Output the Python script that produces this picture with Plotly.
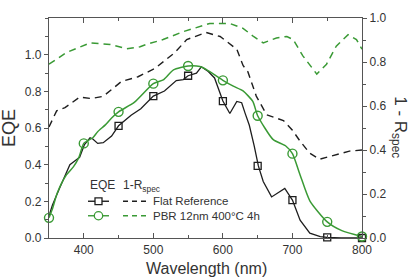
import plotly.graph_objects as go

# ---------------- data ----------------
# EQE, Flat Reference (black solid)
flat_eqe_wl = [350, 355, 365, 380, 387, 394, 401, 409, 413, 420, 428, 440, 450, 460, 468, 482,
               500, 516, 529, 533, 543, 550, 562, 569, 579, 588, 600, 610, 620, 627, 632, 638,
               645, 651, 658, 670, 689, 700, 711, 725, 740, 750, 770, 800]
flat_eqe = [0.12, 0.18, 0.27, 0.40, 0.42, 0.44, 0.51, 0.547, 0.54, 0.516, 0.52, 0.556, 0.612, 0.645, 0.67, 0.705,
            0.774, 0.802, 0.846, 0.859, 0.864, 0.885, 0.899, 0.934, 0.908, 0.873, 0.747, 0.679, 0.745, 0.738, 0.68, 0.615,
            0.503, 0.393, 0.308, 0.224, 0.27, 0.207, 0.097, 0.026, 0.008, 0.003, 0.0, 0.0]
flat_mark_wl = [450, 500, 550, 600, 650, 700, 750, 800]
flat_mark = [0.612, 0.774, 0.885, 0.747, 0.393, 0.207, 0.003, 0.0]

# EQE, PBR 12nm 400C 4h (green solid)
pbr_eqe_wl = [350, 355, 362, 375, 385, 393, 400, 413, 420, 431, 440, 450, 473, 500, 515, 529,
              550, 567, 577, 600, 615, 629, 643, 650, 672, 690, 700, 711, 725, 750, 771, 800]
pbr_eqe = [0.11, 0.16, 0.247, 0.344, 0.388, 0.44, 0.516, 0.547, 0.58, 0.617, 0.655, 0.688, 0.741, 0.842, 0.864, 0.917,
           0.938, 0.935, 0.917, 0.86, 0.828, 0.802, 0.745, 0.667, 0.538, 0.503, 0.46, 0.344, 0.203, 0.088, 0.04, 0.008]
pbr_mark_wl = [350, 400, 450, 500, 550, 600, 650, 700, 750, 800]
pbr_mark = [0.11, 0.516, 0.688, 0.842, 0.938, 0.86, 0.667, 0.46, 0.088, 0.008]

# 1 - R_spec, Flat Reference (black dashed)
flat_r_wl = [350, 361, 373, 385, 394, 411, 428, 454, 478, 502, 514, 531, 548, 576, 596, 615, 620,
             629, 636, 648, 663, 687, 700, 711, 725, 739, 758, 782, 800]
flat_r = [0.505, 0.578, 0.593, 0.622, 0.64, 0.634, 0.644, 0.711, 0.733, 0.77, 0.80, 0.843, 0.902, 0.934, 0.916, 0.872, 0.858,
          0.784, 0.755, 0.645, 0.56, 0.534, 0.49, 0.44, 0.385, 0.358, 0.373, 0.395, 0.40]

# 1 - R_spec, PBR (green dashed)
pbr_r_wl = [350, 375, 409, 438, 462, 481, 490, 514, 543, 581, 610, 629, 644, 658, 677, 692, 701,
            715, 735, 749, 763, 780, 792, 800]
pbr_r = [0.79, 0.843, 0.887, 0.88, 0.86, 0.869, 0.88, 0.902, 0.938, 0.975, 0.975, 0.953, 0.916, 0.887, 0.909, 0.916, 0.902,
         0.828, 0.745, 0.79, 0.872, 0.924, 0.902, 0.858]

x_ticks = [400, 500, 600, 700, 800]
left_ticks = [0.0, 0.2, 0.4, 0.6, 0.8, 1.0]
right_ticks = [0.0, 0.2, 0.4, 0.6, 0.8, 1.0]

legend_labels = ["Flat Reference", "PBR 12nm 400°C 4h"]

# ---------------- styles ----------------
BLACK = "#1e1e1e"
GREEN = "#3a9a35"
AXIS = "#555555"
TXT = "#333333"
FONT = "Liberation Sans, Arial, sans-serif"
DASH = "7px,5px"

fig = go.Figure()

fig.add_trace(go.Scatter(x=flat_r_wl, y=flat_r, mode="lines", yaxis="y2",
                         line=dict(color=BLACK, width=1.4, dash=DASH), showlegend=False))
fig.add_trace(go.Scatter(x=pbr_r_wl, y=pbr_r, mode="lines", yaxis="y2",
                         line=dict(color=GREEN, width=1.5, dash=DASH), showlegend=False))
fig.add_trace(go.Scatter(x=flat_eqe_wl, y=flat_eqe, mode="lines",
                         line=dict(color=BLACK, width=1.3), showlegend=False))
fig.add_trace(go.Scatter(x=pbr_eqe_wl, y=pbr_eqe, mode="lines", line_shape="spline",
                         line=dict(color=GREEN, width=1.5, smoothing=0.6), showlegend=False))
fig.add_trace(go.Scatter(x=flat_mark_wl, y=flat_mark, mode="markers", cliponaxis=False,
                         marker=dict(symbol="square-open", size=7, color=BLACK, line=dict(width=1.3)),
                         showlegend=False))
fig.add_trace(go.Scatter(x=pbr_mark_wl, y=pbr_mark, mode="markers", cliponaxis=False,
                         marker=dict(symbol="circle-open", size=9, color=GREEN, line=dict(width=1.4)),
                         showlegend=False))

# plot area in pixels
L, R, T, B = 49, 362, 11, 238.5
W, H = R - L, B - T


def px(x):
    return (x - L) / W


def py(y):
    return (B - y) / H


shapes = []
annotations = []

# legend header
annotations.append(dict(x=px(88), y=py(183.5), xref="paper", yref="paper", text="EQE",
                        showarrow=False, xanchor="left", yanchor="middle",
                        font=dict(size=12, color=TXT, family=FONT)))
annotations.append(dict(x=px(120.5), y=py(184.5), xref="paper", yref="paper", text="1-R<sub>spec</sub>",
                        showarrow=False, xanchor="left", yanchor="middle",
                        font=dict(size=12, color=TXT, family=FONT)))

rows = [(200.5, BLACK, "square"), (215.5, GREEN, "circle")]
for (yy, col, sym), lab in zip(rows, legend_labels):
    shapes.append(dict(type="line", xref="paper", yref="paper", x0=px(88), x1=px(109), y0=py(yy), y1=py(yy),
                       line=dict(color=col, width=1.4)))
    s = 3.5 if sym == "square" else 4.2
    shapes.append(dict(type="rect" if sym == "square" else "circle", xref="paper", yref="paper",
                       x0=px(98.5 - s), x1=px(98.5 + s), y0=py(yy + s), y1=py(yy - s),
                       line=dict(color=col, width=1.3), fillcolor="white"))
    shapes.append(dict(type="line", xref="paper", yref="paper", x0=px(123), x1=px(146), y0=py(yy), y1=py(yy),
                       line=dict(color=col, width=1.4, dash="5px,4px")))
    annotations.append(dict(x=px(151), y=py(yy), xref="paper", yref="paper", text=lab,
                            showarrow=False, xanchor="left", yanchor="middle",
                            font=dict(size=11.5, color=TXT, family=FONT)))

# axis titles
annotations.append(dict(x=px(9), y=0.5, xref="paper", yref="paper", text="EQE", textangle=-90,
                        showarrow=False, xanchor="center", yanchor="middle",
                        font=dict(size=18, color=TXT, family=FONT)))
annotations.append(dict(x=px(399), y=py(124), xref="paper", yref="paper", text="1 - R<sub>spec</sub>",
                        textangle=90, showarrow=False, xanchor="center", yanchor="middle",
                        font=dict(size=17, color=TXT, family=FONT)))
annotations.append(dict(x=px(206.5), y=py(270.5), xref="paper", yref="paper", text="Wavelength (nm)",
                        showarrow=False, xanchor="center", yanchor="middle",
                        font=dict(size=16, color=TXT, family=FONT)))

axis_common = dict(showline=True, linecolor=AXIS, linewidth=1.3, showgrid=False, zeroline=False,
                   tickcolor=AXIS, tickwidth=1.2, tickfont=dict(size=12, color=TXT, family=FONT))

fig.update_layout(
    width=418, height=278,
    margin=dict(l=L, r=418 - R, t=T, b=278 - B, pad=0),
    paper_bgcolor="white", plot_bgcolor="white",
    showlegend=False,
    xaxis=dict(range=[350, 800], tickvals=x_ticks, ticks="inside", ticklen=5, mirror="ticks",
               minor=dict(dtick=50, tick0=350, ticks="inside", ticklen=3, tickcolor=AXIS),
               **axis_common),
    yaxis=dict(range=[0, 1.2], tickvals=left_ticks, tickformat=".1f", ticks="outside", ticklen=4,
               minor=dict(dtick=0.1, ticks="outside", ticklen=3, tickcolor=AXIS),
               **axis_common),
    yaxis2=dict(range=[0, 1.0], tickvals=right_ticks, tickformat=".1f", overlaying="y", side="right",
                ticks="outside", ticklen=4,
                minor=dict(dtick=0.1, ticks="outside", ticklen=3, tickcolor=AXIS),
                **axis_common),
    shapes=shapes,
    annotations=annotations,
)

fig.write_html("out.html")
